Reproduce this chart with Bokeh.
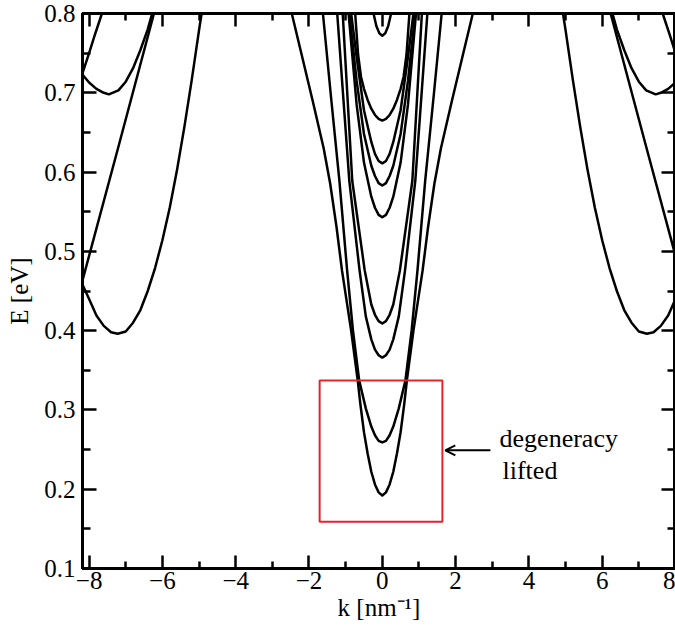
from bokeh.plotting import figure
from bokeh.models import LinearAxis, Label, Arrow, OpenHead, Range1d, FixedTicker
from bokeh.embed import file_html
from bokeh.resources import INLINE

# ---- data (k in nm^-1, E in eV) ----
# central subbands at k = 0 (half curves, k >= 0, mirrored to k < 0)
band_A_k = [0, 0.1, 0.2, 0.3, 0.4, 0.5, 0.6, 0.67, 0.85, 1.1, 1.25, 1.42, 1.6, 1.9, 2.2, 2.47]
band_A_E = [0.192, 0.196, 0.206, 0.222, 0.245, 0.272, 0.308, 0.337, 0.40, 0.476, 0.531, 0.585,
            0.63, 0.69, 0.748, 0.80]
band_B_k = [0, 0.1, 0.2, 0.3, 0.45, 0.63, 0.8, 0.96, 1.17, 1.4, 1.62]
band_B_E = [0.259, 0.261, 0.268, 0.279, 0.302, 0.337, 0.40, 0.476, 0.589, 0.695, 0.80]
band_C_k = [0, 0.1, 0.2, 0.3, 0.45, 0.62, 0.9, 1.23]
band_C_E = [0.366, 0.369, 0.376, 0.389, 0.418, 0.476, 0.589, 0.80]
band_D_k = [0, 0.1, 0.2, 0.3, 0.48, 0.82, 1.08]
band_D_E = [0.409, 0.412, 0.42, 0.433, 0.476, 0.589, 0.80]
band_E_k = [0, 0.1, 0.2, 0.3, 0.5, 0.7, 0.92]
band_E_E = [0.543, 0.546, 0.555, 0.569, 0.612, 0.685, 0.80]
band_F_k = [0, 0.1, 0.2, 0.3, 0.5, 0.7, 0.9]
band_F_E = [0.583, 0.586, 0.595, 0.608, 0.648, 0.715, 0.80]
band_G_k = [0, 0.1, 0.2, 0.3, 0.5, 0.7, 0.85]
band_G_E = [0.611, 0.614, 0.623, 0.638, 0.678, 0.745, 0.80]
band_H_k = [0, 0.1, 0.2, 0.3, 0.4, 0.5, 0.58, 0.66, 0.74]
band_H_E = [0.665, 0.667, 0.672, 0.68, 0.691, 0.705, 0.72, 0.748, 0.80]
band_I_k = [0, 0.08, 0.16, 0.24]
band_I_E = [0.772, 0.775, 0.784, 0.80]

# side valleys near the zone edge (left side; mirrored to the right side)
valley_low_k = [-8.2, -8.0, -7.8, -7.6, -7.4, -7.22, -7.0, -6.8, -6.6, -6.4, -6.2, -6.0,
                -5.8, -5.6, -5.4, -5.2, -5.0, -4.93]
valley_low_E = [0.46, 0.44, 0.419, 0.406, 0.398, 0.396, 0.399, 0.41, 0.426, 0.45, 0.479, 0.514,
                0.555, 0.603, 0.657, 0.716, 0.779, 0.80]
valley_up_k = [-8.2, -8.0, -7.8, -7.6, -7.46, -7.2, -7.0, -6.8, -6.6, -6.4, -6.28]
valley_up_E = [0.724, 0.713, 0.705, 0.7, 0.698, 0.703, 0.714, 0.731, 0.754, 0.78, 0.80]
edge_line_k = [-8.2, -7.2, -6.23]
edge_line_E = [0.46, 0.632, 0.80]
edge_steep_k = [-8.2, -8.0, -7.85, -7.65]
edge_steep_E = [0.722, 0.75, 0.772, 0.80]

# highlighted region and annotation
box_k = [-1.71, 1.64]
box_E = [0.159, 0.337]
arrow_k = [2.95, 1.72]
arrow_E = 0.249
note_lines = ["degeneracy", "lifted"]
note_k = [3.2, 3.28]
note_E = [0.264, 0.224]

x_major = [-8, -6, -4, -2, 0, 2, 4, 6, 8]
x_minor = [-7, -5, -3, -1, 1, 3, 5, 7]
y_major = [0.1, 0.2, 0.3, 0.4, 0.5, 0.6, 0.7, 0.8]
y_minor = [0.15, 0.25, 0.35, 0.45, 0.55, 0.65, 0.75]

x_label = "k [nm\u207b\u00b9]"
y_label = "E [eV]"

SERIF = "Liberation Serif"

p = figure(width=675, height=637, x_range=Range1d(-8.18, 8.0), y_range=Range1d(0.1, 0.8),
           output_backend="svg", toolbar_location=None,
           min_border_left=82, min_border_right=0, min_border_top=13, min_border_bottom=69,
           x_axis_label=x_label, y_axis_label=y_label)
p.grid.visible = False
p.outline_line_color = "black"
p.outline_line_width = 3
p.background_fill_color = "white"
p.border_fill_color = "white"


def style_ticks(ax, major_len=13, minor_len=7):
    ax.axis_line_width = 3
    ax.axis_line_color = "black"
    ax.major_tick_in = major_len
    ax.major_tick_out = 0
    ax.minor_tick_in = minor_len
    ax.minor_tick_out = 0
    ax.major_tick_line_width = 2.5
    ax.minor_tick_line_width = 2.5
    ax.major_tick_line_color = "black"
    ax.minor_tick_line_color = "black"


def style_labels(ax):
    ax.major_label_text_font = SERIF
    ax.major_label_text_font_size = "25px"
    ax.major_label_text_color = "black"
    ax.axis_label_text_font = SERIF
    ax.axis_label_text_font_size = "25px"
    ax.axis_label_text_font_style = "normal"
    ax.axis_label_text_color = "black"


p.xaxis.ticker = FixedTicker(ticks=x_major, minor_ticks=x_minor)
p.yaxis.ticker = FixedTicker(ticks=y_major, minor_ticks=y_minor)
style_ticks(p.xaxis[0], 13, 7)
style_ticks(p.yaxis[0], 14, 8)
style_labels(p.xaxis[0])
style_labels(p.yaxis[0])
p.xaxis[0].major_label_standoff = 3
p.xaxis[0].axis_label_standoff = 2
p.yaxis[0].major_label_standoff = 7
p.yaxis[0].axis_label_standoff = 8

# ticks on the top and right edges (no labels): minor-only tick sets of two lengths
for side, ticks, length in [("above", x_major, 13), ("above", x_minor, 7),
                            ("right", y_major, 14), ("right", y_minor, 8)]:
    ax = LinearAxis(ticker=FixedTicker(ticks=[], minor_ticks=ticks))
    style_ticks(ax, 0, length)
    ax.axis_line_color = None
    p.add_layout(ax, side)

LW = 2.5


def mirror(hk, hE):
    ks = [-k for k in reversed(hk)] + list(hk[1:])
    Es = list(reversed(hE)) + list(hE[1:])
    return ks, Es


for hk, hE in [(band_A_k, band_A_E), (band_B_k, band_B_E), (band_C_k, band_C_E),
               (band_D_k, band_D_E), (band_E_k, band_E_E), (band_F_k, band_F_E),
               (band_G_k, band_G_E), (band_H_k, band_H_E), (band_I_k, band_I_E)]:
    ks, Es = mirror(hk, hE)
    p.line(ks, Es, line_color="black", line_width=LW, line_join="round")

for sk, sE in [(valley_low_k, valley_low_E), (valley_up_k, valley_up_E),
               (edge_line_k, edge_line_E), (edge_steep_k, edge_steep_E)]:
    p.line(sk, sE, line_color="black", line_width=LW, line_join="round")
    p.line([-k for k in sk], sE, line_color="black", line_width=LW, line_join="round")

p.quad(left=[box_k[0]], right=[box_k[1]], bottom=[box_E[0]], top=[box_E[1]],
       fill_color=None, line_color="#e0262b", line_width=2)

p.add_layout(Arrow(end=OpenHead(size=10, line_width=2, line_color="black"),
                   x_start=arrow_k[0], y_start=arrow_E, x_end=arrow_k[1], y_end=arrow_E,
                   line_width=2, line_color="black"))

for txt, kx, ey in zip(note_lines, note_k, note_E):
    p.add_layout(Label(x=kx, y=ey, text=txt, text_font=SERIF, text_font_size="26px",
                       text_color="black", text_baseline="alphabetic", text_align="left"))

open("out.html", "w").write(file_html(p, INLINE))
